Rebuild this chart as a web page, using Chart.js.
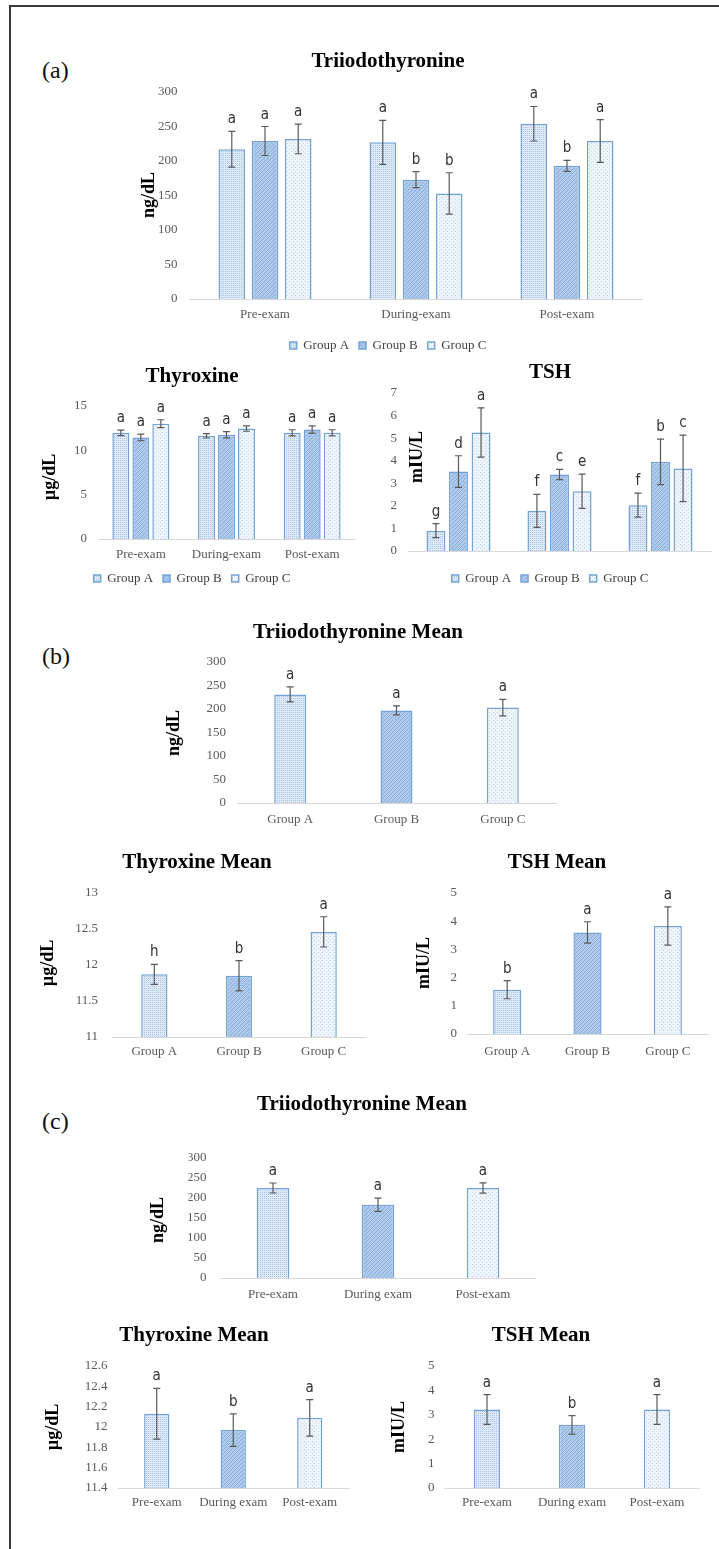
<!DOCTYPE html>
<html>
<head>
<meta charset="utf-8">
<script src="https://cdn.jsdelivr.net/npm/chart.js@4.4.1/dist/chart.umd.min.js"></script>
<style>
  html, body { margin: 0; padding: 0; background: #fff; overflow: hidden; }
  #page { position: relative; width: 719px; height: 1549px; }
  #frame { position: absolute; left: 9px; top: 5px; right: 0; bottom: 0;
           border-top: 2px solid #3a3a3a; border-left: 2px solid #3a3a3a; }
  .panel { position: absolute; font: 24px 'Liberation Serif', 'Times New Roman', serif;
           line-height: 24px; color: #111; }
  canvas { position: absolute; }
</style>
</head>
<body>
<div id="page">
  <div id="frame"></div>
  <div class="panel" style="left:42px;top:58px">(a)</div>
  <div class="panel" style="left:42px;top:644px">(b)</div>
  <div class="panel" style="left:42px;top:1109px">(c)</div>
</div>
<script>
// categories
const periods = ['Pre-exam', 'During-exam', 'Post-exam'];
const periodsMean = ['Pre-exam', 'During exam', 'Post-exam'];
const groups = ['Group A', 'Group B', 'Group C'];

// (a) Triiodothyronine (ng/dL) by period
const t3A = [217, 227, 254];
const t3AErr = [26, 32, 25];
const t3ALetters = ['a', 'a', 'a'];
const t3B = [229, 173, 193];
const t3BErr = [21, 11.5, 8];
const t3BLetters = ['a', 'b', 'b'];
const t3C = [232, 153, 229];
const t3CErr = [21.5, 30, 31];
const t3CLetters = ['a', 'b', 'a'];

// (a) Thyroxine (µg/dL) by period
const t4A = [11.97, 11.64, 11.97];
const t4AErr = [0.3, 0.25, 0.35];
const t4ALetters = ['a', 'a', 'a'];
const t4B = [11.45, 11.75, 12.35];
const t4BErr = [0.37, 0.35, 0.4];
const t4BLetters = ['a', 'a', 'a'];
const t4C = [13.0, 12.45, 11.97];
const t4CErr = [0.45, 0.3, 0.35];
const t4CLetters = ['a', 'a', 'a'];

// (a) TSH (mIU/L) by period
const tshA = [0.9, 1.78, 2.03];
const tshAErr = [0.31, 0.73, 0.53];
const tshALetters = ['g', 'f', 'f'];
const tshB = [3.52, 3.39, 3.95];
const tshBErr = [0.7, 0.23, 1.01];
const tshBLetters = ['d', 'c', 'b'];
const tshC = [5.25, 2.65, 3.66];
const tshCErr = [1.09, 0.76, 1.47];
const tshCLetters = ['a', 'e', 'c'];

// (b) means by group
const t3MeanGroup = [231, 197, 203];
const t3MeanGroupErr = [16, 9.5, 17.5];
const t3MeanGroupLetters = ['a', 'a', 'a'];
const t4MeanGroup = [11.87, 11.85, 12.46];
const t4MeanGroupErr = [0.14, 0.21, 0.21];
const t4MeanGroupLetters = ['h', 'b', 'a'];
const tshMeanGroup = [1.57, 3.6, 3.83];
const tshMeanGroupErr = [0.32, 0.38, 0.68];
const tshMeanGroupLetters = ['b', 'a', 'a'];

// (c) means by period
const t3MeanPeriod = [225, 183, 225];
const t3MeanPeriodErr = [12.5, 16.5, 13];
const t3MeanPeriodLetters = ['a', 'a', 'a'];
const t4MeanPeriod = [12.13, 11.97, 12.09];
const t4MeanPeriodErr = [0.25, 0.16, 0.18];
const t4MeanPeriodLetters = ['a', 'b', 'a'];
const tshMeanPeriod = [3.22, 2.59, 3.22];
const tshMeanPeriodErr = [0.61, 0.38, 0.61];
const tshMeanPeriodLetters = ['a', 'b', 'a'];

// y ranges: [min, max, step]
const t3Range = [0, 300, 50];
const t4Range = [0, 15, 5];
const tshRange = [0, 7, 1];
const t4MeanGroupRange = [11, 13, 0.5];
const tshMeanRange = [0, 5, 1];
const t4MeanPeriodRange = [11.4, 12.6, 0.2];

Chart.defaults.font.family = "'Liberation Serif', 'Times New Roman', serif";
Chart.defaults.color = '#595959';

const TITLE_SIZE = 21;
const TICK_SIZE = 13;
const LEG_FONT = 13;
const LEG_PAD = 10;
const BAR_BORDER = '#74a2d7';

// dotted / hatched fills like the Excel pattern fills
function makeFills(ctx) {
  function pattern(size, bg, fg, pixels) {
    const c = document.createElement('canvas');
    c.width = size; c.height = size;
    const g = c.getContext('2d');
    g.fillStyle = bg;
    g.fillRect(0, 0, size, size);
    g.fillStyle = fg;
    pixels.forEach(([x, y]) => g.fillRect(x, y, 1, 1));
    return ctx.createPattern(c, 'repeat');
  }
  return [
    pattern(4, '#dde9f6', '#abc6e7', [[0, 0], [2, 2], [2, 0], [0, 2]]),
    pattern(4, '#adc9ea', '#8cafdb', [[0, 3], [1, 2], [2, 1], [3, 0]]),
    pattern(4, '#eef4fb', '#c6d8ee', [[0, 0], [2, 2]])
  ];
}

// error bars, significance letters and the unit label
const marksPlugin = {
  id: 'marks',
  afterDatasetsDraw(chart, args, opts) {
    const ctx = chart.ctx;
    const y = chart.scales.y;
    ctx.save();
    chart.data.datasets.forEach((ds, i) => {
      chart.getDatasetMeta(i).data.forEach((bar, j) => {
        const v = ds.data[j], e = ds.errors[j];
        const top = y.getPixelForValue(v + e);
        const bot = y.getPixelForValue(v - e);
        ctx.strokeStyle = '#5a5a5a';
        ctx.lineWidth = 1.2;
        ctx.beginPath();
        ctx.moveTo(bar.x, top); ctx.lineTo(bar.x, bot);
        ctx.moveTo(bar.x - 3.5, top); ctx.lineTo(bar.x + 3.5, top);
        ctx.moveTo(bar.x - 3.5, bot); ctx.lineTo(bar.x + 3.5, bot);
        ctx.stroke();
        ctx.fillStyle = '#333';
        ctx.font = "15px 'Liberation Sans Narrow', 'DejaVu Sans Condensed', 'Open Sans', sans-serif";
        ctx.textAlign = 'center';
        ctx.textBaseline = 'alphabetic';
        ctx.fillText(ds.letters[j], bar.x, top - 8);
      });
    });
    ctx.translate(opts.ux, opts.uy);
    ctx.rotate(-Math.PI / 2);
    ctx.fillStyle = '#000';
    ctx.font = "bold 18px 'Liberation Serif', 'Times New Roman', serif";
    ctx.textAlign = 'center';
    ctx.textBaseline = 'middle';
    ctx.fillText(opts.unit, 0, 0);
    ctx.restore();
  }
};

function addChart(spec) {
  const p = spec.plot;
  const A = Math.min(p.l, 2 * spec.titleX - p.r);   // left edge of title/legend box
  const cL = Math.floor(Math.min(A, p.l - 80));
  const cR = Math.ceil(p.r + 30);
  const lh = TITLE_SIZE * 1.2;
  const cT = Math.round(spec.titleY - 4 - lh / 2);
  let xh, cB;
  if (spec.legendY) {
    const lt = Math.round(spec.legendY - LEG_PAD - LEG_FONT / 2);
    xh = lt - p.b;
    cB = lt + LEG_FONT + LEG_PAD + 10;
  } else {
    xh = spec.catY + 12 - p.b;
    cB = p.b + xh;
  }

  const canvas = document.createElement('canvas');
  canvas.width = cR - cL;
  canvas.height = cB - cT;
  canvas.style.left = cL + 'px';
  canvas.style.top = cT + 'px';
  document.getElementById('page').appendChild(canvas);
  const fills = makeFills(canvas.getContext('2d'));

  let datasets;
  if (spec.series.length > 1) {
    datasets = spec.series.map((s, i) => ({
      label: groups[i], data: s.data, errors: s.err, letters: s.letters,
      backgroundColor: fills[i], borderColor: BAR_BORDER, borderWidth: 1.5,
      categoryPercentage: spec.cp, barPercentage: spec.bp
    }));
  } else {
    const s = spec.series[0];
    datasets = [{
      label: spec.title, data: s.data, errors: s.err, letters: s.letters,
      backgroundColor: fills, borderColor: BAR_BORDER, borderWidth: 1.5,
      categoryPercentage: 1, barPercentage: spec.bp
    }];
  }

  new Chart(canvas, {
    type: 'bar',
    data: { labels: spec.labels, datasets },
    options: {
      responsive: false,
      animation: false,
      devicePixelRatio: 1,
      layout: { padding: { left: A - cL, right: cR - p.r, top: 0, bottom: 0 } },
      plugins: {
        title: {
          display: true, text: spec.title, color: '#000',
          font: { size: TITLE_SIZE, weight: 'bold' },
          padding: { top: 4, bottom: p.t - cT - 4 - lh }
        },
        legend: spec.legendY ? {
          display: true, position: 'bottom',
          labels: { boxWidth: 7, boxHeight: 7, padding: LEG_PAD, color: '#404040', font: { size: LEG_FONT } }
        } : { display: false },
        tooltip: { enabled: false },
        marks: { unit: spec.unit, ux: spec.unitX - cL, uy: spec.unitY - cT }
      },
      scales: {
        x: {
          grid: { display: false, drawTicks: false },
          border: { color: '#d9d9d9', width: 1 },
          ticks: { padding: spec.catY - p.b - TICK_SIZE * 0.6, font: { size: TICK_SIZE },
                   maxRotation: 0, autoSkip: false },
          afterFit: s => { s.height = xh; }
        },
        y: {
          min: spec.range[0], max: spec.range[1],
          grid: { display: false, drawTicks: false },
          border: { display: false },
          ticks: { stepSize: spec.range[2], padding: spec.tickPad || 11, font: { size: TICK_SIZE },
                   callback: v => String(Math.round(v * 10) / 10) },
          afterFit: s => { s.width = p.l - A; }
        }
      }
    },
    plugins: [marksPlugin]
  });
}

// (a)
addChart({
  title: 'Triiodothyronine', titleX: 388, titleY: 62,
  plot: { l: 189.5, r: 642.5, t: 92, b: 299 }, catY: 315, legendY: 345,
  unit: 'ng/dL', unitX: 149, unitY: 195, tickPad: 12,
  labels: periods, range: t3Range, cp: 0.66, bp: 0.8,
  series: [
    { data: t3A, err: t3AErr, letters: t3ALetters },
    { data: t3B, err: t3BErr, letters: t3BLetters },
    { data: t3C, err: t3CErr, letters: t3CLetters }
  ]
});
addChart({
  title: 'Thyroxine', titleX: 192, titleY: 377,
  plot: { l: 98, r: 355, t: 406, b: 539 }, catY: 555, legendY: 578,
  unit: 'µg/dL', unitX: 50, unitY: 477,
  labels: periods, range: t4Range, cp: 0.70, bp: 0.85,
  series: [
    { data: t4A, err: t4AErr, letters: t4ALetters },
    { data: t4B, err: t4BErr, letters: t4BLetters },
    { data: t4C, err: t4CErr, letters: t4CLetters }
  ]
});
addChart({
  title: 'TSH', titleX: 550, titleY: 373,
  plot: { l: 408, r: 711, t: 393, b: 551 }, catY: 568, legendY: 578,
  unit: 'mIU/L', unitX: 417, unitY: 457,
  labels: periods, range: tshRange, cp: 0.67, bp: 0.84,
  series: [
    { data: tshA, err: tshAErr, letters: tshALetters },
    { data: tshB, err: tshBErr, letters: tshBLetters },
    { data: tshC, err: tshCErr, letters: tshCLetters }
  ]
});

// (b)
addChart({
  title: 'Triiodothyronine Mean', titleX: 358, titleY: 633,
  plot: { l: 237, r: 556, t: 662, b: 803 }, catY: 820,
  unit: 'ng/dL', unitX: 174, unitY: 733,
  labels: groups, range: t3Range, bp: 0.30,
  series: [{ data: t3MeanGroup, err: t3MeanGroupErr, letters: t3MeanGroupLetters }]
});
addChart({
  title: 'Thyroxine Mean', titleX: 197, titleY: 863,
  plot: { l: 112, r: 366, t: 893, b: 1037 }, catY: 1052,
  unit: 'µg/dL', unitX: 48, unitY: 963, tickPad: 14,
  labels: groups, range: t4MeanGroupRange, bp: 0.31,
  series: [{ data: t4MeanGroup, err: t4MeanGroupErr, letters: t4MeanGroupLetters }]
});
addChart({
  title: 'TSH Mean', titleX: 557, titleY: 863,
  plot: { l: 467, r: 708, t: 893, b: 1034 }, catY: 1052,
  unit: 'mIU/L', unitX: 424, unitY: 963, tickPad: 10,
  labels: groups, range: tshMeanRange, bp: 0.35,
  series: [{ data: tshMeanGroup, err: tshMeanGroupErr, letters: tshMeanGroupLetters }]
});

// (c)
addChart({
  title: 'Triiodothyronine Mean', titleX: 362, titleY: 1105,
  plot: { l: 220.5, r: 535.5, t: 1158, b: 1278 }, catY: 1295,
  unit: 'ng/dL', unitX: 158, unitY: 1220, tickPad: 14,
  labels: periodsMean, range: t3Range, bp: 0.31,
  series: [{ data: t3MeanPeriod, err: t3MeanPeriodErr, letters: t3MeanPeriodLetters }]
});
addChart({
  title: 'Thyroxine Mean', titleX: 194, titleY: 1336,
  plot: { l: 118.5, r: 348, t: 1366, b: 1488 }, catY: 1503,
  unit: 'µg/dL', unitX: 53, unitY: 1427,
  labels: periodsMean, range: t4MeanPeriodRange, bp: 0.33,
  series: [{ data: t4MeanPeriod, err: t4MeanPeriodErr, letters: t4MeanPeriodLetters }]
});
addChart({
  title: 'TSH Mean', titleX: 541, titleY: 1336,
  plot: { l: 444.5, r: 699.5, t: 1366, b: 1488 }, catY: 1503,
  unit: 'mIU/L', unitX: 399, unitY: 1427, tickPad: 10,
  labels: periodsMean, range: tshMeanRange, bp: 0.31,
  series: [{ data: tshMeanPeriod, err: tshMeanPeriodErr, letters: tshMeanPeriodLetters }]
});
</script>
</body>
</html>
